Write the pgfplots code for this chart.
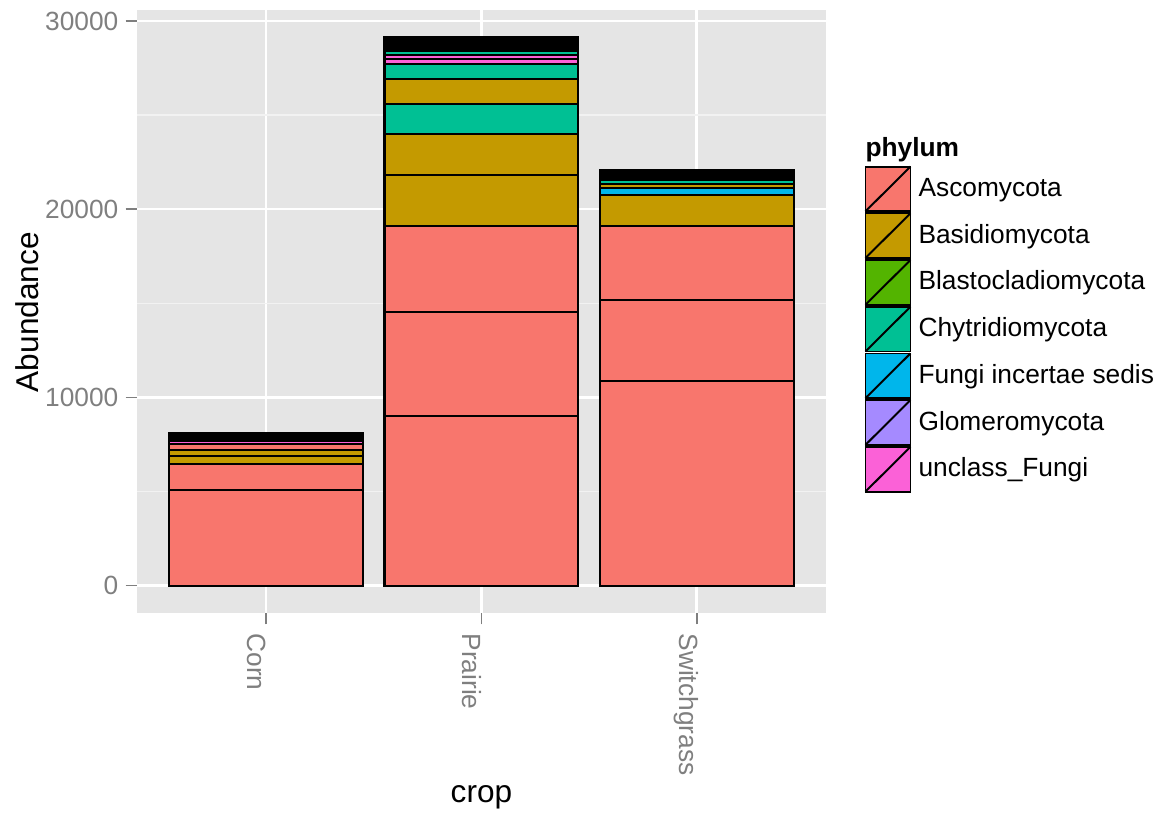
\documentclass[border=0pt]{standalone}
\usepackage{fontspec}
\setmainfont{Liberation Sans}
\usepackage{pgfplots}
\pgfplotsset{compat=1.18}
\definecolor{panelgray}{HTML}{E5E5E5}
\definecolor{gridminor}{HTML}{F2F2F2}
\definecolor{tickgray}{HTML}{7F7F7F}
\definecolor{asco}{HTML}{F8766D}
\definecolor{basi}{HTML}{C49A00}
\definecolor{blas}{HTML}{53B400}
\definecolor{chyt}{HTML}{00C094}
\definecolor{finc}{HTML}{00B6EB}
\definecolor{glom}{HTML}{A58AFF}
\definecolor{uncl}{HTML}{FB61D7}
\pgfplotsset{phylumkey/.style={legend image code/.code={%
  \draw[fill=#1, draw=black, line width=0.7pt] (0pt,-8.5pt) rectangle (17.1pt,8.5pt);
  \draw[black, line width=0.75pt] (0pt,-8.5pt) -- (17.1pt,8.5pt);}}}
% one stacked segment: fill, Corn, Prairie, Switchgrass
\newcommand{\seg}[4]{\addplot[fill=#1, draw=black, line width=0.85pt] coordinates {(0,#2) (1,#3) (2,#4)};}
\begin{document}
\begin{tikzpicture}
\useasboundingbox (0,0) rectangle (441.2pt,310.1pt);
\begin{axis}[
  at={(52.06pt,77.14pt)}, anchor=south west,
  scale only axis, width=261.8pt, height=229.1pt,
  xmin=-0.6, xmax=2.6, ymin=-1456, ymax=30574,
  ybar stacked, bar width=0.9,
  axis background/.style={fill=panelgray},
  axis line style={draw=none},
  xtick={0,1,2}, xticklabels={Corn,Prairie,Switchgrass},
  ytick={0,10000,20000,30000}, minor ytick={5000,15000,25000},
  scaled y ticks=false,
  xmajorgrids, ymajorgrids, yminorgrids,
  major grid style={white, line width=1pt},
  minor grid style={gridminor, line width=0.5pt},
  tick pos=left, tick align=outside,
  major tick length=4.3pt, minor tick length=0pt,
  major tick style={tickgray, line width=0.6pt},
  /pgf/number format/assume math mode=true,
  /pgf/number format/1000 sep={},
  tick label style={color=tickgray, font=\fontsize{10}{12}\selectfont},
  yticklabel style={inner sep=2.6pt},
  xticklabel style={xshift=-3.8pt, rotate=-90, anchor=west, inner sep=3.3pt},
  xlabel={crop}, ylabel={Abundance},
  label style={font=\fontsize{12}{14}\selectfont, color=black},
  xlabel style={at={(axis description cs:0.5,-0.305)}, anchor=center},
  ylabel style={at={(axis description cs:-0.1597,0.499)}, anchor=center},
  legend cell align=left,
  legend style={at={(axis description cs:1.0552,0.743)}, anchor=north west,
    draw=none, fill=none, inner sep=0pt, row sep=0pt, column sep=0pt,
    font=\fontsize{10}{12}\selectfont,
    nodes={inner xsep=2.7pt, inner ysep=0pt}},
]
\addlegendimage{phylumkey=asco}\addlegendentry{Ascomycota}
\addlegendimage{phylumkey=basi}\addlegendentry{Basidiomycota}
\addlegendimage{phylumkey=blas}\addlegendentry{Blastocladiomycota}
\addlegendimage{phylumkey=chyt}\addlegendentry{Chytridiomycota}
\addlegendimage{phylumkey=finc}\addlegendentry{Fungi incertae sedis}
\addlegendimage{phylumkey=glom}\addlegendentry{Glomeromycota}
\addlegendimage{phylumkey=uncl}\addlegendentry{unclass\_Fungi}
% Corn
\seg{asco}{5072}{0}{0}
\seg{asco}{1381}{0}{0}
\seg{basi}{451}{0}{0}
\seg{basi}{319}{0}{0}
\seg{asco}{281}{0}{0}
\seg{uncl}{196}{0}{0}
\seg{asco}{82}{0}{0}
\seg{basi}{82}{0}{0}
\seg{asco}{82}{0}{0}
\seg{chyt}{82}{0}{0}
\seg{asco}{81}{0}{0}
% Prairie
\seg{asco}{0}{9028}{0}
\seg{asco}{0}{5523}{0}
\seg{asco}{0}{4567}{0}
\seg{basi}{0}{2708}{0}
\seg{basi}{0}{2177}{0}
\seg{chyt}{0}{1593}{0}
\seg{basi}{0}{1328}{0}
\seg{chyt}{0}{770}{0}
\seg{uncl}{0}{266}{0}
\seg{uncl}{0}{239}{0}
\seg{chyt}{0}{186}{0}
\seg{asco}{0}{92}{0}
\seg{basi}{0}{92}{0}
\seg{asco}{0}{92}{0}
\seg{chyt}{0}{92}{0}
\seg{asco}{0}{92}{0}
\seg{glom}{0}{91}{0}
\seg{asco}{0}{91}{0}
\seg{basi}{0}{91}{0}
% Switchgrass
\seg{asco}{0}{0}{10887}
\seg{asco}{0}{0}{4302}
\seg{asco}{0}{0}{3930}
\seg{basi}{0}{0}{1646}
\seg{finc}{0}{0}{345}
\seg{basi}{0}{0}{239}
\seg{chyt}{0}{0}{212}
\seg{asco}{0}{0}{86}
\seg{basi}{0}{0}{86}
\seg{asco}{0}{0}{86}
\seg{chyt}{0}{0}{86}
\seg{asco}{0}{0}{86}
\seg{basi}{0}{0}{85}
\end{axis}
\node[anchor=base west, inner sep=0pt, font=\bfseries\fontsize{10}{12}\selectfont] at (328.7pt,250.8pt) {phylum};
\end{tikzpicture}
\end{document}
